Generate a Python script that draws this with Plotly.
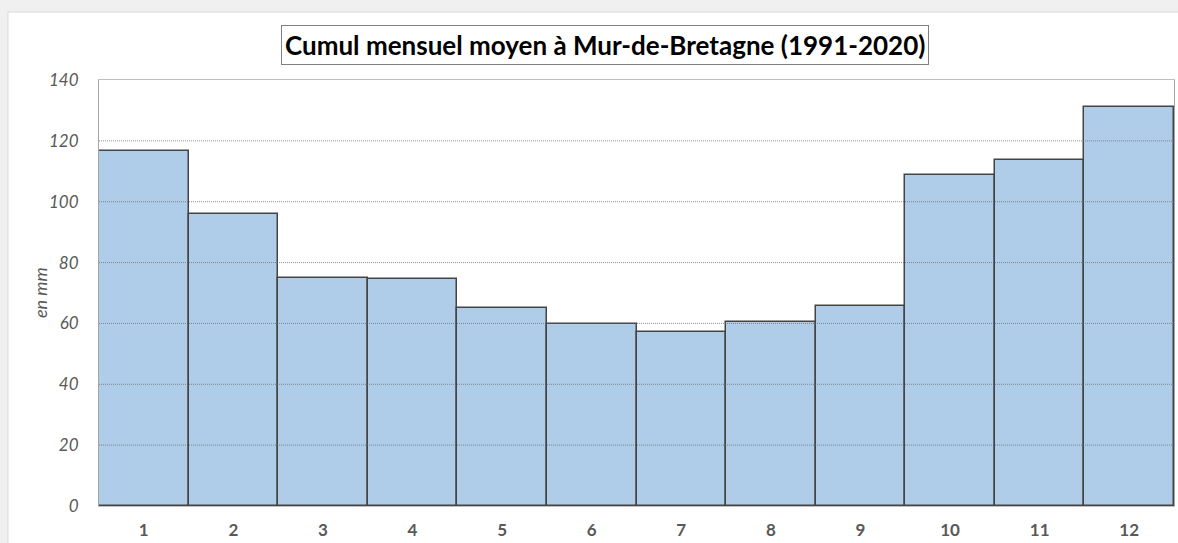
import plotly.graph_objects as go

# mean monthly rainfall, Mur-de-Bretagne 1991-2020
mois = [1, 2, 3, 4, 5, 6, 7, 8, 9, 10, 11, 12]
cumul = [116.7, 96.0, 74.9, 74.6, 65.1, 59.8, 57.2, 60.5, 65.7, 108.8, 113.7, 131.1]
titre = "Cumul mensuel moyen à Mur-de-Bretagne (1991-2020)"
graduations = [20, 40, 60, 80, 100, 120]

W, H = 1178, 543

fig = go.Figure(
    data=[go.Bar(
        x=mois, y=cumul, width=1,
        marker=dict(color="#afcde9", line=dict(color="#444444", width=1.5)),
        hoverinfo="x+y",
    )]
)

# white chart area on a grey page
fig.add_shape(type="rect", xref="paper", yref="paper",
              x0=-91 / 1075, x1=1.1, y0=-0.2, y1=1 + (80 - 12) / 426,
              fillcolor="white", line=dict(color="#d9d9d9", width=1), layer="below")

# dotted gridlines drawn over the bars, as in the original
for g in graduations:
    fig.add_hline(y=g, line=dict(color="rgba(100,100,100,0.7)", width=1, dash="1px,1px"))

fig.add_annotation(
    text="<b>" + titre + "</b>", xref="paper", yref="paper",
    x=(605 - 99) / 1075, y=1 + (80 - 45) / 426, xanchor="center", yanchor="middle",
    showarrow=False, font=dict(family="Lato", size=26, color="black"),
    bordercolor="#7f7f7f", borderwidth=1, borderpad=3, bgcolor="white",
)

# y axis title
fig.add_annotation(
    text="en mm", xref="paper", yref="paper",
    x=(40 - 99) / 1075, y=(506 - 292) / 426, xanchor="center", yanchor="middle",
    textangle=-90, showarrow=False,
    font=dict(family="Lato", size=18, color="#595959", style="italic"),
)

fig.update_layout(
    width=W, height=H,
    margin=dict(l=99, r=4, t=80, b=37),
    paper_bgcolor="#f0f0f0", plot_bgcolor="white",
    showlegend=False,
    bargap=0,
)
fig.update_xaxes(
    range=[0.5, 12.5], tickmode="array", tickvals=mois,
    ticktext=["<b>%d</b>" % m for m in mois],
    tickfont=dict(family="Lato", size=17, color="#595959"),
    showgrid=False, showline=True, linecolor="#bfbfbf", mirror=True,
    ticks="outside", ticklen=9, tickcolor="rgba(0,0,0,0)",
)
fig.update_yaxes(
    range=[0, 140], dtick=20,
    tickfont=dict(family="Lato", size=17, color="#595959", style="italic"),
    showgrid=False,
    showline=True, linecolor="#a6a6a6", mirror=True, zeroline=False,
    ticks="outside", ticklen=16, tickcolor="rgba(0,0,0,0)",
)

fig.write_html("out.html", config={"displayModeBar": False},
               post_script="document.body.style.margin='0';")
